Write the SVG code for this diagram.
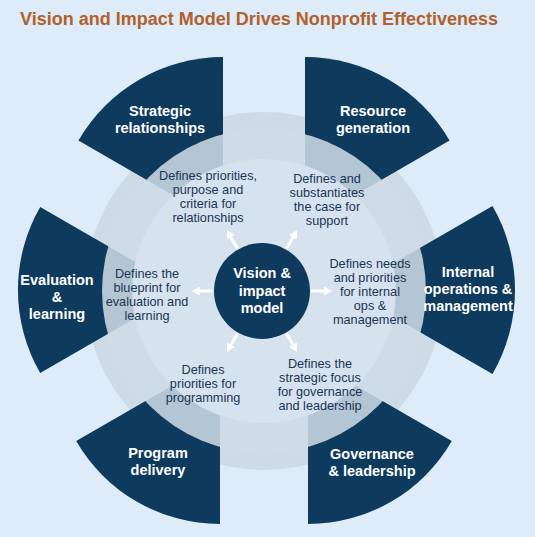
<svg xmlns="http://www.w3.org/2000/svg" width="535" height="537" viewBox="0 0 535 537">
<style>
.sec{fill:#0e3a5e}
.lbl{font-family:"Liberation Sans",Arial,sans-serif;font-weight:bold;font-size:14.5px;fill:#ffffff;text-anchor:middle}
.txt{font-family:"Liberation Sans",Arial,sans-serif;font-size:12.7px;fill:#183656;text-anchor:middle}
.arr{stroke:#ffffff;stroke-width:3;fill:none}
</style>
<defs>
<marker id="ah" viewBox="0 0 8 9" markerWidth="8" markerHeight="9" refX="1" refY="4.5" markerUnits="userSpaceOnUse" orient="auto">
<path d="M0,0 L8,4.5 L0,9 z" fill="#ffffff"/>
</marker>
</defs>
<rect x="0" y="0" width="535" height="537" fill="#ddecf8"/>
<text x="20" y="24.5" font-family="Liberation Sans, Arial, sans-serif" font-weight="bold" font-size="18" fill="#b0612e" textLength="478" lengthAdjust="spacingAndGlyphs">Vision and Impact Model Drives Nonprofit Effectiveness</text>
<circle id="ringA" cx="264" cy="291" r="179" fill="#cedbe7"/>
<g id="sectors">
<g id="strategic"><path class="sec" d="M223,224 L223,57 A167,167 0 0 0 78.4,140.5 Z"/></g>
<g id="resource"><path class="sec" d="M305,224 L449.6,140.5 A167,167 0 0 0 305,57 Z"/></g>
<g id="evaluation"><path class="sec" d="M184,290 L40.2,207 A166,166 0 0 0 40.2,373 Z"/></g>
<g id="internal"><path class="sec" d="M347,290 L492.5,206 A168,168 0 0 1 492.5,374 Z"/></g>
<g id="program"><path class="sec" d="M220,358 L220,524 A166,166 0 0 1 76.2,441 Z"/></g>
<g id="governance"><path class="sec" d="M308,358 L451.8,441 A166,166 0 0 1 308,524 Z"/></g>
</g>
<circle id="ringB" cx="264" cy="291" r="162" fill="#cfdce8" fill-opacity="0.86"/>
<circle id="inner" cx="264" cy="291" r="132" fill="#d6e2ed"/>
<g id="connectors">
<line class="arr" x1="311" y1="291" x2="325" y2="291" marker-end="url(#ah)"/>
<line class="arr" x1="286.5" y1="248.6" x2="293.5" y2="236.4" marker-end="url(#ah)"/>
<line class="arr" x1="237.5" y1="248.6" x2="230.5" y2="236.4" marker-end="url(#ah)"/>
<line class="arr" x1="213" y1="291" x2="199" y2="291" marker-end="url(#ah)"/>
<line class="arr" x1="237.5" y1="333.4" x2="230.5" y2="345.6" marker-end="url(#ah)"/>
<line class="arr" x1="286.5" y1="333.4" x2="293.5" y2="345.6" marker-end="url(#ah)"/>
</g>
<g id="center">
<circle cx="262" cy="291" r="48" fill="#0e3a5e"/>
<text class="lbl" x="262" y="278">Vision &amp;</text>
<text class="lbl" x="262" y="296">impact</text>
<text class="lbl" x="262" y="313">model</text>
</g>
<g id="strategic-label">
<text class="lbl" x="160" y="116">Strategic</text>
<text class="lbl" x="160" y="133">relationships</text>
</g>
<g id="resource-label">
<text class="lbl" x="373" y="116">Resource</text>
<text class="lbl" x="373" y="133">generation</text>
</g>
<g id="evaluation-label">
<text class="lbl" x="57" y="285">Evaluation</text>
<text class="lbl" x="57" y="302">&amp;</text>
<text class="lbl" x="57" y="319">learning</text>
</g>
<g id="internal-label">
<text class="lbl" x="468" y="277">Internal</text>
<text class="lbl" x="468" y="294">operations &amp;</text>
<text class="lbl" x="468" y="311">management</text>
</g>
<g id="program-label">
<text class="lbl" x="158" y="458">Program</text>
<text class="lbl" x="158" y="475">delivery</text>
</g>
<g id="governance-label">
<text class="lbl" x="372" y="459">Governance</text>
<text class="lbl" x="372" y="476">&amp; leadership</text>
</g>
<g id="t-strategic">
<text class="txt" x="208" y="180">Defines priorities,</text>
<text class="txt" x="208" y="194">purpose  and</text>
<text class="txt" x="208" y="208">criteria for</text>
<text class="txt" x="208" y="222">relationships</text>
</g>
<g id="t-resource">
<text class="txt" x="327" y="182.5">Defines and</text>
<text class="txt" x="327" y="196.5">substantiates</text>
<text class="txt" x="327" y="210.5">the case for</text>
<text class="txt" x="327" y="224.5">support</text>
</g>
<g id="t-internal">
<text class="txt" x="370" y="268">Defines needs</text>
<text class="txt" x="370" y="282">and  priorities</text>
<text class="txt" x="370" y="296">for internal</text>
<text class="txt" x="370" y="310">ops &amp;</text>
<text class="txt" x="370" y="324">management</text>
</g>
<g id="t-evaluation">
<text class="txt" x="147" y="277.5">Defines the</text>
<text class="txt" x="147" y="291.5">blueprint  for</text>
<text class="txt" x="147" y="305.5">evaluation  and</text>
<text class="txt" x="147" y="320">learning</text>
</g>
<g id="t-program">
<text class="txt" x="203" y="374">Defines</text>
<text class="txt" x="203" y="388">priorities for</text>
<text class="txt" x="203" y="402">programming</text>
</g>
<g id="t-governance">
<text class="txt" x="320" y="367.5">Defines the</text>
<text class="txt" x="320" y="381.5">strategic focus</text>
<text class="txt" x="320" y="395.5">for governance</text>
<text class="txt" x="320" y="409.5">and  leadership</text>
</g>
</svg>
